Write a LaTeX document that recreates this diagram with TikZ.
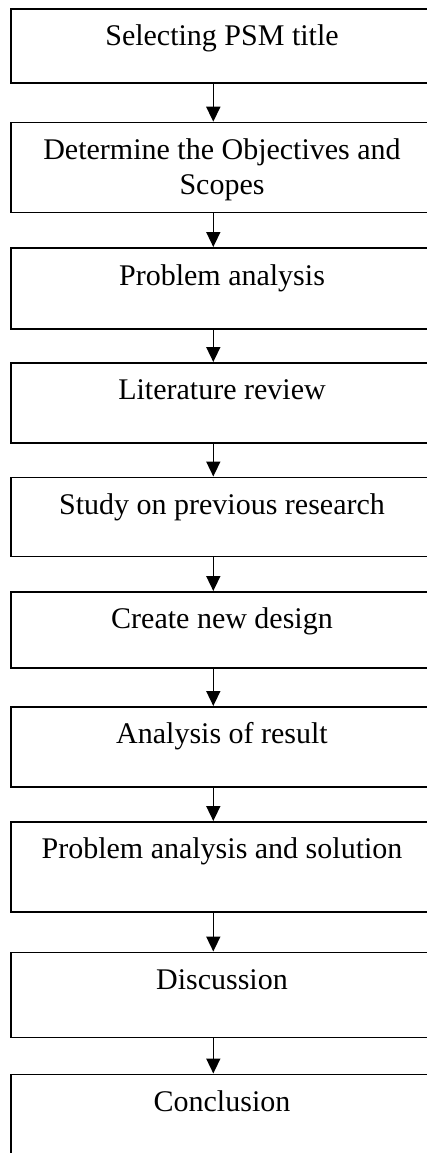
\documentclass[tikz,border=0pt]{standalone}
\usepackage{fontspec}
\setmainfont{Liberation Serif}
\usetikzlibrary{arrows.meta}
\begin{document}
\begin{tikzpicture}[x=1pt,y=-1pt,
  box/.style={draw, line width=1.7pt, minimum width=424pt, anchor=north west, inner sep=0pt},
  lbl/.style={font=\fontsize{30}{35}\selectfont, anchor=base, inner sep=0pt, align=center},
  arr/.style={-{Triangle[length=15pt,width=14pt]}, line width=1.6pt}]
\useasboundingbox (0,0) rectangle (427,1153);
\clip (0,0) rectangle (427,1153);
\coordinate (ax) at (213.3,0);
\node[box, minimum height=74pt]   (b1)  at (10,8.3)   {};
\node[box, minimum height=89.8pt] (b2)  at (10,121.7) {};
\node[box, minimum height=81pt]   (b3)  at (10,247)   {};
\node[box, minimum height=80pt]   (b4)  at (10,362)   {};
\node[box, minimum height=79pt]   (b5)  at (10,476.5) {};
\node[box, minimum height=76pt]   (b6)  at (10,591)   {};
\node[box, minimum height=80pt]   (b7)  at (10,706)   {};
\node[box, minimum height=90pt]   (b8)  at (10,821)   {};
\node[box, minimum height=85pt]   (b9)  at (10,951.5) {};
\node[box, minimum height=126pt]  (b10) at (10,1073.5) {};
\node[lbl] (t1)  at (222,45.8)  {Selecting PSM title};
\node[lbl] (t2)  at (222,194.3) {Determine the Objectives and\\Scopes};
\node[lbl] (t3)  at (222,285)   {Problem analysis};
\node[lbl] (t4)  at (222,399.8) {Literature review};
\node[lbl] (t5)  at (222,514)   {Study on previous research};
\node[lbl] (t6)  at (222,628.8) {Create new design};
\node[lbl] (t7)  at (222,743.7) {Analysis of result};
\node[lbl] (t8)  at (222,858)   {Problem analysis and solution};
\node[lbl] (t9)  at (222,989)   {Discussion};
\node[lbl] (t10) at (222,1111.5) {Conclusion};
\foreach \a/\b in {b1/b2,b2/b3,b3/b4,b4/b5,b5/b6,b6/b7,b7/b8,b8/b9,b9/b10}
  \draw[arr] (\a.south -| ax) -- (\b.north -| ax);
\end{tikzpicture}
\end{document}
